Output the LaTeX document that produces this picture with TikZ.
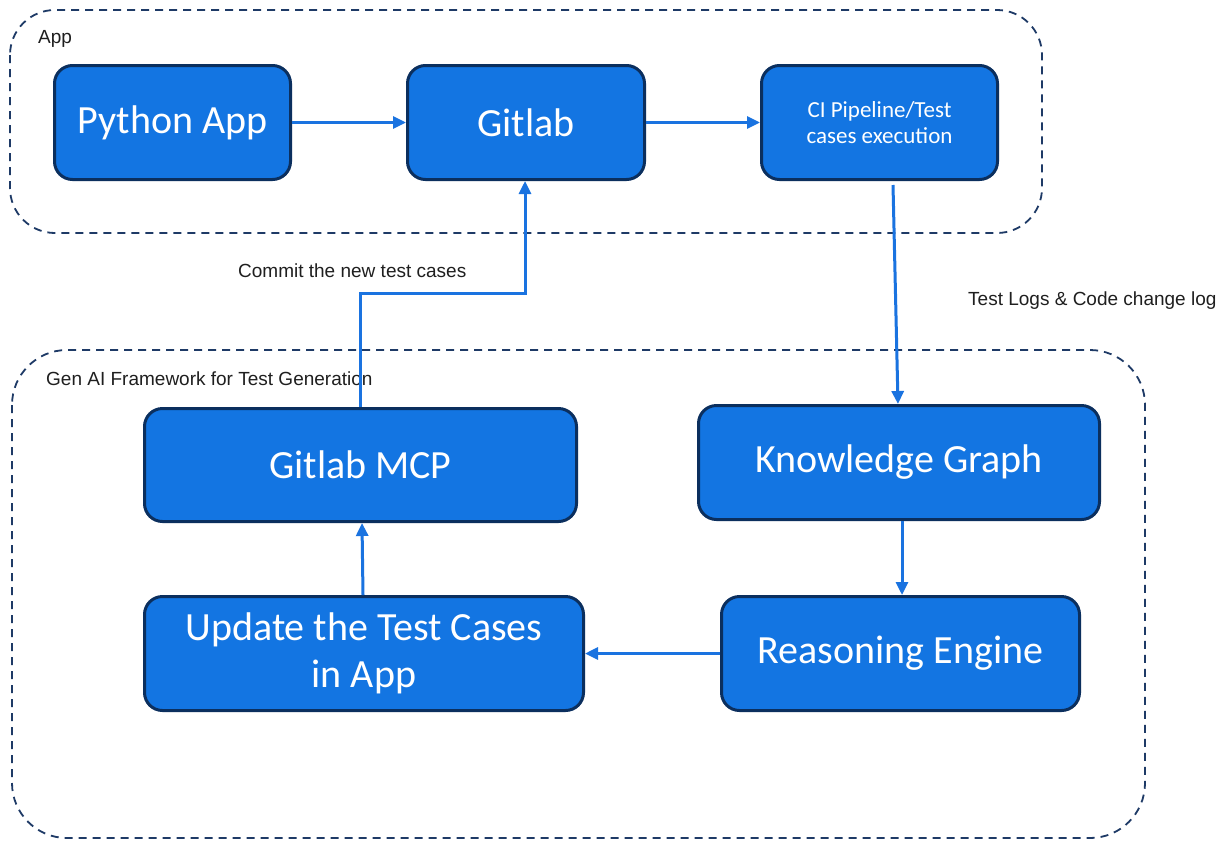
\documentclass[tikz,border=0pt]{standalone}
\usepackage{fontspec}
\setmainfont{Liberation Sans}
\newfontfamily\boxfont{Carlito}
\usetikzlibrary{arrows.meta}
\definecolor{boxblue}{HTML}{1375E2}
\definecolor{navy}{HTML}{0B2F5E}
\definecolor{arrowblue}{HTML}{1A73E0}
\definecolor{dashnavy}{HTML}{1E3A66}
\begin{document}
\begin{tikzpicture}[x=1pt,y=-1pt,
 blk/.style={draw=navy, line width=3pt, fill=boxblue, rounded corners=18pt, text=white, font=\boxfont\fontsize{40}{47}\selectfont, align=center, inner sep=0pt},
 smallblk/.style={blk, font=\boxfont\fontsize{23}{26}\selectfont},
 container/.style={draw=dashnavy, line width=1.8pt, dash pattern=on 8pt off 6pt, rounded corners=45pt},
 conn/.style={draw=arrowblue, line width=3pt, -{Triangle[length=13pt,width=12pt]}},
 lbl/.style={font=\fontsize{19}{22}\selectfont, text=black!88, anchor=west, inner sep=0pt}
]
\useasboundingbox[fill=white] (0,0) rectangle (1230,841);
% containers
\draw[container] (10,10) rectangle (1042,233);
\draw[container, rounded corners=55pt] (12,350) rectangle (1145,838);
\node[lbl] (applbl) at (38,39) {App};
\node[lbl] (genlbl) at (46,379) {Gen AI Framework for Test Generation};
% boxes
\node[blk, minimum width=236pt, minimum height=114pt] (py) at (172.5,122.5) {Python App};
\node[blk, minimum width=237pt, minimum height=114pt] (git) at (526,122.5) {Gitlab};
\node[smallblk, minimum width=236pt, minimum height=114pt] (ci) at (879.5,122.5) {CI Pipeline/Test\\cases execution};
\node[blk, minimum width=432pt, minimum height=113pt] (mcp) at (360.5,465) {Gitlab MCP};
\node[blk, minimum width=401pt, minimum height=114pt] (kg) at (899,462.5) {Knowledge Graph};
\node[blk, minimum width=439pt, minimum height=114pt] (upd) at (364,653.5) {Update the Test Cases\\in App};
\node[blk, minimum width=358pt, minimum height=114pt] (re) at (900.5,653.5) {Reasoning Engine};
% connectors
\draw[conn] (py.east) -- (git.west);
\draw[conn] (git.east) -- (ci.west);
\draw[conn] ([xshift=13.5pt,yshift=-4pt]ci.south) -- ([xshift=-1pt]kg.north);
\draw[conn] ([xshift=3pt]kg.south) -- ([xshift=1.5pt]re.north);
\draw[conn] (re.west) -- (upd.east);
\draw[conn] ([xshift=-1pt]upd.north) -- ([xshift=1.5pt]mcp.south);
\coordinate (bend) at (525,293);
\draw[conn] (mcp.north) |- (bend) -- ([xshift=-1pt]git.south);
% labels
\node[lbl] (commit) at (238,271) {Commit the new test cases};
\node[lbl] (logs) at (968,301) {Test Logs \& Code change log};
\end{tikzpicture}
\end{document}
